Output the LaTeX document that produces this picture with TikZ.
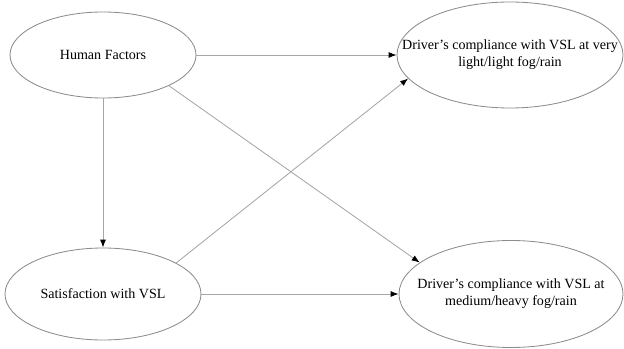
\documentclass[tikz,border=0pt]{standalone}
\usepackage{fontspec}
\setmainfont{Liberation Serif}
\usetikzlibrary{shapes.geometric,arrows.meta,positioning}
\tikzset{
  ell/.style={draw=black!45, line width=0.6pt, ellipse, inner sep=0pt},
  every label/.style={align=center, font=\fontsize{10}{12}\selectfont, inner sep=0pt},
  link/.style={draw=black!35, line width=0.6pt, -{Latex[black, length=2mm, width=1.5mm]}}
}
\begin{document}
\begin{tikzpicture}
  \useasboundingbox (0,0) rectangle (15.6,-8.725);
  \node[ell, minimum width=4.65cm, minimum height=2.15cm,
        label=center:Human Factors] (hf) at (2.575,-1.375) {};
  \node[ell, right of=hf, node distance=10.175cm, minimum width=5.65cm, minimum height=2.65cm,
        label={center:Driver’s compliance with VSL at very\\light/light fog/rain}] (tr) {};
  \node[ell, below of=hf, node distance=5.975cm, minimum width=4.9cm, minimum height=2.3cm,
        label=center:Satisfaction with VSL] (sat) {};
  \node[ell, right of=sat, node distance=10.2cm, minimum width=5.6cm, minimum height=2.675cm,
        label={center:Driver’s compliance with VSL at\\medium/heavy fog/rain}] (br) {};
  \draw[link] (hf.east) -- (tr.west);
  \draw[link] (hf.south) -- (sat.north);
  \draw[link] (hf.-25) -- (br.161);
  \draw[link] (sat.23) -- (tr.193);
  \draw[link] (sat.east) -- (br.west);
\end{tikzpicture}
\end{document}
